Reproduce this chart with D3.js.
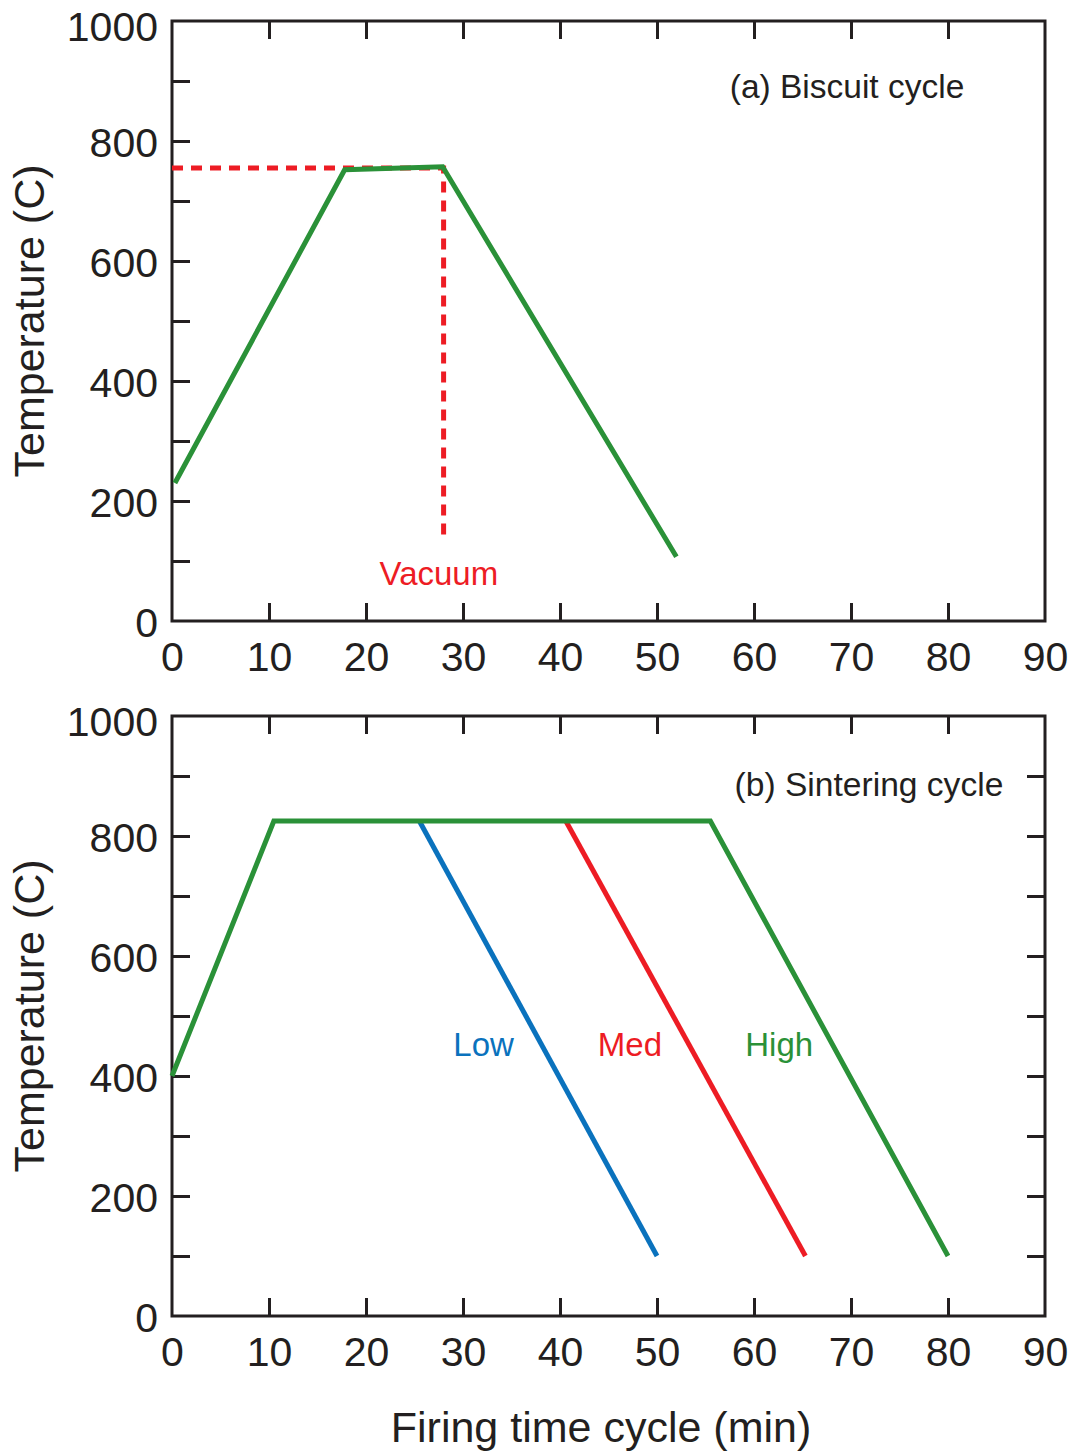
<!DOCTYPE html>
<html>
<head>
<meta charset="utf-8">
<script src="https://cdn.jsdelivr.net/npm/d3@7"></script>
<style>
  body { margin: 0; background: #fff; }
  text { font-family: "Liberation Sans", Arial, Helvetica, sans-serif; fill: #231f20; }
</style>
</head>
<body>
<svg id="chart" width="1073" height="1452"></svg>
<script>
// ---- data ----
const timeLabels = [0, 10, 20, 30, 40, 50, 60, 70, 80, 90];
const timeTickMarks = [10, 20, 30, 40, 50, 60, 70, 80];
const tempLabels = [0, 200, 400, 600, 800, 1000];
const tempTickMarks = [100, 200, 300, 400, 500, 600, 700, 800, 900];

// (a) biscuit firing
const biscuitTime = [0.3, 17.8, 27.9, 52];
const biscuitTemp = [230, 752, 757, 107];
const vacuumTime = [0, 28, 28];
const vacuumTemp = [755, 755, 135];

// (b) sintering firing: shared ramp + hold, then three cool-down paths
const highTime = [0, 10.5, 55.5, 80];
const highTemp = [400, 825, 825, 100];
const medTime = [40.6, 65.3];
const medTemp = [825, 100];
const lowTime = [25.5, 50];
const lowTemp = [825, 100];

const seriesLabels = ["Low", "Med", "High"];
const seriesLabelTime = [29.0, 43.9, 59.1];
const seriesLabelTemp = [433, 433, 433];

const COLORS = { green: "#2a9138", red: "#ed1c24", blue: "#0a72bd", axis: "#231f20" };

// ---- layout ----
const svg = d3.select("#chart");
const X0 = 172, X1 = 1045;
const panels = [
  { top: 21, bottom: 621, rightTicks: false },
  { top: 716, bottom: 1316, rightTicks: true }
];

const x = d3.scaleLinear().domain([0, 90]).range([X0, X1]);

function toPts(ts, vs) { return ts.map((t, i) => [t, vs[i]]); }

function drawPanel(p) {
  const y = d3.scaleLinear().domain([0, 1000]).range([p.bottom, p.top]);
  const g = svg.append("g");

  // inward tick marks
  const tl = 18;
  g.append("g").attr("transform", `translate(0,${p.bottom})`)
    .call(d3.axisBottom(x).tickValues(timeTickMarks).tickSize(-tl).tickFormat(""));
  g.append("g").attr("transform", `translate(0,${p.top})`)
    .call(d3.axisTop(x).tickValues(timeTickMarks).tickSize(-tl).tickFormat(""));
  g.append("g").attr("transform", `translate(${X0},0)`)
    .call(d3.axisLeft(y).tickValues(tempTickMarks).tickSize(-tl).tickFormat(""));
  if (p.rightTicks) {
    g.append("g").attr("transform", `translate(${X1},0)`)
      .call(d3.axisRight(y).tickValues(tempTickMarks).tickSize(-tl).tickFormat(""));
  }
  g.selectAll(".domain").remove();
  g.selectAll(".tick line").attr("stroke", COLORS.axis).attr("stroke-width", 3);

  // tick labels
  const xl = g.append("g").attr("transform", `translate(0,${p.bottom})`)
    .call(d3.axisBottom(x).tickValues(timeLabels).tickSize(0).tickPadding(21).tickFormat(d3.format("d")));
  const yl = g.append("g").attr("transform", `translate(${X0},0)`)
    .call(d3.axisLeft(y).tickValues(tempLabels).tickSize(0).tickPadding(14).tickFormat(d3.format("d")));
  [xl, yl].forEach(a => {
    a.select(".domain").remove();
    a.selectAll("text").attr("font-size", 41).attr("fill", COLORS.axis)
      .style("font-family", '"Liberation Sans", Arial, sans-serif');
  });
  // top label sits a little lower so it stays clear of the edge
  yl.selectAll("text").attr("dy", d => d === 1000 ? "0.48em" : "0.37em");

  // frame
  g.append("rect").attr("x", X0).attr("y", p.top)
    .attr("width", X1 - X0).attr("height", p.bottom - p.top)
    .attr("fill", "none").attr("stroke", COLORS.axis).attr("stroke-width", 3);

  // y title
  g.append("text")
    .attr("transform", `translate(44,${(p.top + p.bottom) / 2}) rotate(-90)`)
    .attr("text-anchor", "middle").attr("font-size", 43)
    .text("Temperature (C)");

  return { g, y };
}

const line = (y) => d3.line().x(d => x(d[0])).y(d => y(d[1]));

// ---- panel (a) ----
{
  const { g, y } = drawPanel(panels[0]);
  g.append("path").datum(toPts(vacuumTime, vacuumTemp))
    .attr("d", line(y)).attr("fill", "none")
    .attr("stroke", COLORS.red).attr("stroke-width", 5)
    .attr("stroke-dasharray", "11,8");
  g.append("path").datum(toPts(biscuitTime, biscuitTemp))
    .attr("d", line(y)).attr("fill", "none")
    .attr("stroke", COLORS.green).attr("stroke-width", 5)
    .attr("stroke-linejoin", "miter");
  g.append("text").attr("x", x(21.4)).attr("y", y(60))
    .attr("font-size", 33).style("fill", COLORS.red).text("Vacuum");
  g.append("text").attr("x", x(57.5)).attr("y", y(872))
    .attr("font-size", 33.5).text("(a) Biscuit cycle");
}

// ---- panel (b) ----
{
  const { g, y } = drawPanel(panels[1]);
  const sets = [
    [lowTime, lowTemp, COLORS.blue],
    [medTime, medTemp, COLORS.red],
    [highTime, highTemp, COLORS.green]
  ];
  sets.forEach(([ts, vs, c]) => {
    g.append("path").datum(toPts(ts, vs))
      .attr("d", line(y)).attr("fill", "none")
      .attr("stroke", c).attr("stroke-width", 5);
  });
  const labelColors = [COLORS.blue, COLORS.red, COLORS.green];
  seriesLabels.forEach((s, i) => {
    g.append("text").attr("x", x(seriesLabelTime[i])).attr("y", y(seriesLabelTemp[i]))
      .attr("font-size", 33).style("fill", labelColors[i]).text(s);
  });
  g.append("text").attr("x", x(58.0)).attr("y", y(867))
    .attr("font-size", 33.6).text("(b) Sintering cycle");
}

// shared x title
svg.append("text").attr("x", 601).attr("y", 1442)
  .attr("text-anchor", "middle").attr("font-size", 43)
  .text("Firing time cycle (min)");
</script>
</body>
</html>
